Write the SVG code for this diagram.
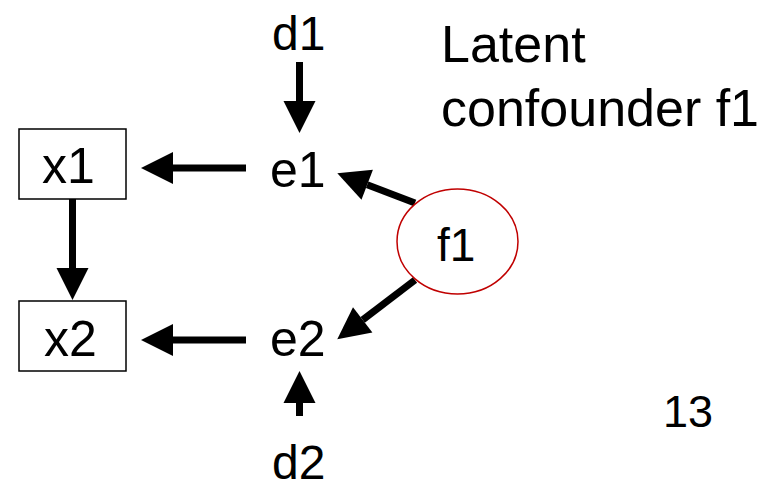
<svg xmlns="http://www.w3.org/2000/svg" width="773" height="481" viewBox="0 0 773 481">
  <style>
    .lbl { font-family: "Liberation Sans", Arial, sans-serif; fill: #000; }
    .box { fill: #fff; stroke: #000; stroke-width: 1.5; }
    .latent { fill: #fff; stroke: #C00000; stroke-width: 1.5; }
    .edge { stroke: #000; stroke-width: 7; fill: none; marker-end: url(#head); }
  </style>
  <defs>
    <!-- solid triangular head, 32 long and 32 wide, starting where the shaft stops -->
    <marker id="head" markerUnits="userSpaceOnUse" markerWidth="34" markerHeight="34"
            refX="0" refY="16" orient="auto" overflow="visible">
      <path d="M0,0 L32,16 L0,32 Z" fill="#000"/>
    </marker>
  </defs>
  <rect width="773" height="481" fill="#fff"/>

  <!-- connectors -->
  <g id="connectors">
    <line class="edge" x1="299.5" y1="62" x2="299.5" y2="101"/>
    <line class="edge" x1="246" y1="168" x2="173" y2="168"/>
    <line class="edge" x1="72.5" y1="199" x2="72.5" y2="268"/>
    <line class="edge" x1="246" y1="340" x2="173" y2="340"/>
    <line class="edge" x1="299.5" y1="416" x2="299.5" y2="403"/>
    <line class="edge" x1="415" y1="203" x2="367.2" y2="184.7"/>
    <line class="edge" x1="415" y1="280" x2="362.7" y2="319.9"/>
  </g>

  <g id="node-x1">
    <rect class="box" x="19" y="129" width="107" height="70"/>
    <text class="lbl" x="42" y="183" font-size="50">x1</text>
  </g>
  <g id="node-x2">
    <rect class="box" x="19" y="301" width="107" height="70"/>
    <text class="lbl" x="44" y="356" font-size="50">x2</text>
  </g>
  <g id="node-e1">
    <text class="lbl" x="270" y="187" font-size="50">e1</text>
  </g>
  <g id="node-e2">
    <text class="lbl" x="270" y="356" font-size="50">e2</text>
  </g>
  <g id="node-d1">
    <text class="lbl" x="272" y="50" font-size="48">d1</text>
  </g>
  <g id="node-d2">
    <text class="lbl" x="272" y="479" font-size="48">d2</text>
  </g>
  <g id="node-f1">
    <ellipse class="latent" cx="457.5" cy="241.5" rx="60.5" ry="52.5"/>
    <text class="lbl" x="437" y="261" font-size="46">f1</text>
  </g>

  <g id="caption">
    <text class="lbl" x="441" y="62" font-size="52">Latent</text>
    <text class="lbl" x="441" y="126" font-size="52">confounder f1</text>
  </g>
  <g id="page-number">
    <text class="lbl" x="663" y="427" font-size="45">13</text>
  </g>
</svg>
